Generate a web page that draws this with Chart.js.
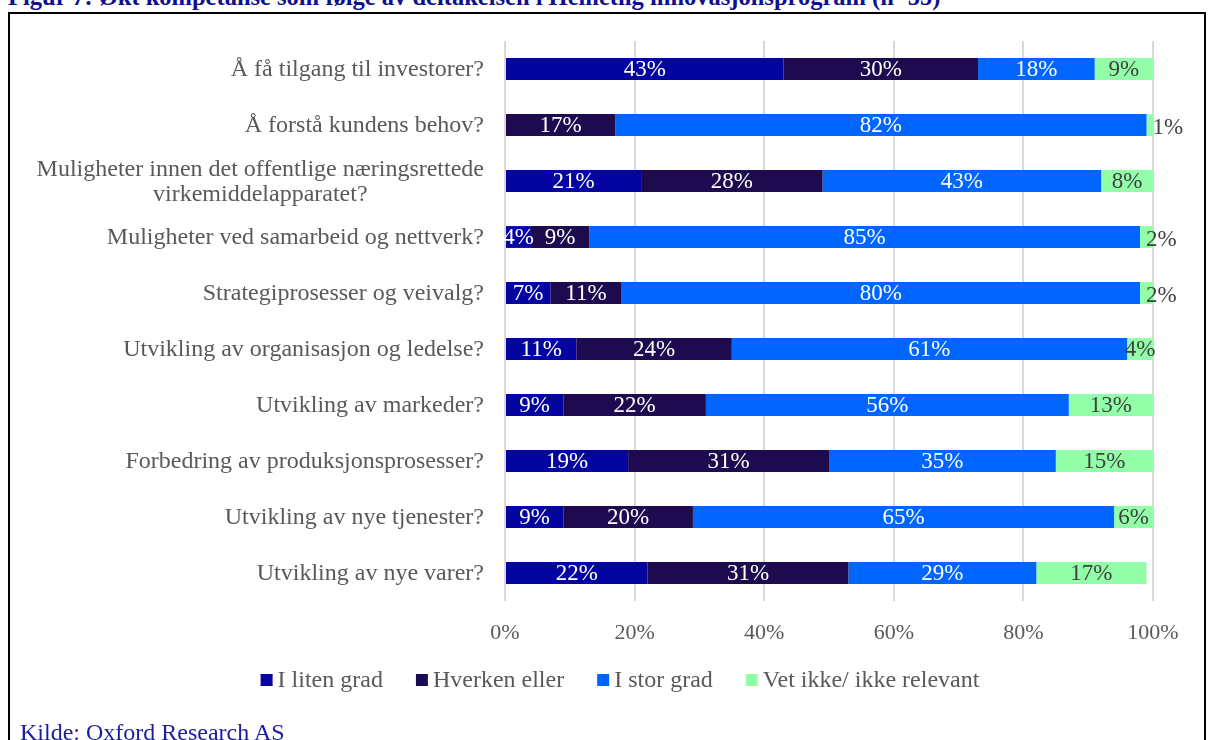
<!DOCTYPE html>
<html lang="no">
<head>
<meta charset="utf-8">
<title>Økt kompetanse</title>
<script src="https://cdn.jsdelivr.net/npm/chart.js@4.4.1/dist/chart.umd.min.js"></script>
<style>
    html, body {
        margin: 0;
        padding: 0;
        background: #ffffff;
        overflow: hidden;
    }
    #page {
        position: relative;
        width: 1208px;
        height: 740px;
        overflow: hidden;
        font-family: "Liberation Serif", "Times New Roman", serif;
    }
    #title {
        position: absolute;
        left: 8px;
        top: -17px;
        font-weight: bold;
        font-size: 24.5px;
        line-height: 28px;
        color: #10108c;
        white-space: nowrap;
    }
    #frame {
        position: absolute;
        left: 8px;
        top: 12px;
        width: 1194px;
        height: 760px;
        border: 2px solid #000000;
    }
    #source {
        position: absolute;
        left: 20px;
        top: 718px;
        font-size: 24px;
        line-height: 28px;
        color: #1c1ca0;
        white-space: nowrap;
    }
    #chartCanvas {
        position: absolute;
        left: 0;
        top: 0;
    }
</style>
</head>
<body>
<div id="page">
    <div id="title">Figur 7: Økt kompetanse som følge av deltakelsen i Helhetlig innovasjonsprogram (n=55)</div>
    <div id="frame"></div>
    <canvas id="chartCanvas" width="1208" height="740"></canvas>
    <div id="source">Kilde: Oxford Research AS</div>
</div>
<script>
const categories = [
    'Å få tilgang til investorer?',
    'Å forstå kundens behov?',
    ['Muligheter innen det offentlige næringsrettede', 'virkemiddelapparatet?'],
    'Muligheter ved samarbeid og nettverk?',
    'Strategiprosesser og veivalg?',
    'Utvikling av organisasjon og ledelse?',
    'Utvikling av markeder?',
    'Forbedring av produksjonsprosesser?',
    'Utvikling av nye tjenester?',
    'Utvikling av nye varer?'
];

const seriesNames = ['I liten grad', 'Hverken eller', 'I stor grad', 'Vet ikke/ ikke relevant'];
const seriesColors = ['#0404a0', '#1e0b4f', '#0066ff', '#92ffa8'];
const labelColors = ['#ffffff', '#ffffff', '#ffffff', '#404040'];

const litenGrad = [43, 0, 21, 4, 7, 11, 9, 19, 9, 22];
const hverkenEller = [30, 17, 28, 9, 11, 24, 22, 31, 20, 31];
const storGrad = [18, 82, 43, 85, 80, 61, 56, 35, 65, 29];
const vetIkke = [9, 1, 8, 2, 2, 4, 13, 15, 6, 17];

const tickValues = [0, 20, 40, 60, 80, 100];

const FONT = '"Liberation Serif", "Times New Roman", serif';
const TEXT_GREY = '#595959';

// percentage labels on each bar segment
const segmentLabels = {
    id: 'segmentLabels',
    afterDatasetsDraw(chart) {
        const ctx = chart.ctx;
        ctx.save();
        ctx.font = '23px ' + FONT;
        ctx.textBaseline = 'middle';
        chart.data.datasets.forEach((ds, di) => {
            const meta = chart.getDatasetMeta(di);
            meta.data.forEach((bar, i) => {
                const value = ds.data[i];
                if (!value) {
                    return;
                }
                const text = value + '%';
                ctx.fillStyle = labelColors[di];
                if (value < 3) {
                    // too narrow, let the text run out past the segment
                    ctx.textAlign = 'left';
                    ctx.fillText(text, bar.base + 6, bar.y + 3);
                } else {
                    ctx.textAlign = 'center';
                    ctx.fillText(text, (bar.base + bar.x) / 2, bar.y + 1);
                }
            });
        });
        ctx.restore();
    }
};

// category names left of the bars, wrapped lines centred in their block
const categoryLabels = {
    id: 'categoryLabels',
    afterDraw(chart) {
        const ctx = chart.ctx;
        const yScale = chart.scales.y;
        const right = chart.chartArea.left - 21;
        const lineHeight = 25;
        ctx.save();
        ctx.font = '24px ' + FONT;
        ctx.fillStyle = TEXT_GREY;
        ctx.textBaseline = 'middle';
        categories.forEach((label, i) => {
            const y = yScale.getPixelForTick(i) + 1;
            const lines = Array.isArray(label) ? label : [label];
            const widths = lines.map(l => ctx.measureText(l).width);
            const blockWidth = Math.max(...widths);
            const centre = right - blockWidth / 2;
            const firstY = y - (lines.length - 1) * lineHeight / 2;
            ctx.textAlign = 'center';
            lines.forEach((line, k) => {
                ctx.fillText(line, centre, firstY + k * lineHeight);
            });
        });
        ctx.restore();
    }
};

// legend row under the axis
const legendRow = {
    id: 'legendRow',
    afterDraw(chart) {
        const ctx = chart.ctx;
        const box = 12;
        const gap = 5;
        const spacing = 33;
        const y = 680;
        ctx.save();
        ctx.font = '24px ' + FONT;
        ctx.textBaseline = 'middle';
        ctx.textAlign = 'left';
        const items = chart.data.datasets.map(ds => ({
            text: ds.label,
            color: ds.backgroundColor,
            width: box + gap + ctx.measureText(ds.label).width
        }));
        const total = items.reduce((s, it) => s + it.width, 0) + spacing * (items.length - 1);
        let x = 620 - total / 2;
        items.forEach(it => {
            ctx.fillStyle = it.color;
            ctx.fillRect(x, y - box / 2, box, box);
            ctx.fillStyle = TEXT_GREY;
            ctx.fillText(it.text, x + box + gap, y + 1);
            x += it.width + spacing;
        });
        ctx.restore();
    }
};

const seriesData = [litenGrad, hverkenEller, storGrad, vetIkke];

new Chart(document.getElementById('chartCanvas'), {
    type: 'bar',
    data: {
        labels: categories,
        datasets: seriesData.map((values, i) => ({
            label: seriesNames[i],
            data: values,
            backgroundColor: seriesColors[i],
            borderWidth: 0,
            barPercentage: 0.39,
            categoryPercentage: 1
        }))
    },
    options: {
        indexAxis: 'y',
        responsive: false,
        animation: false,
        layout: {
            padding: { left: 505, right: 55, top: 41, bottom: 0 }
        },
        plugins: {
            legend: { display: false },
            tooltip: { enabled: false }
        },
        scales: {
            x: {
                stacked: true,
                min: 0,
                max: 100,
                afterBuildTicks(scale) {
                    scale.ticks = tickValues.map(v => ({ value: v }));
                },
                afterFit(scale) {
                    scale.height = 139;
                },
                border: { display: false },
                grid: {
                    color: '#d9d9d9',
                    lineWidth: 2,
                    drawTicks: false
                },
                ticks: {
                    padding: 19,
                    color: TEXT_GREY,
                    font: { family: FONT, size: 22 },
                    callback: v => v + '%'
                }
            },
            y: {
                stacked: true,
                afterFit(scale) {
                    scale.width = 0;
                },
                grid: { display: false },
                border: { display: false },
                ticks: { display: false }
            }
        }
    },
    plugins: [segmentLabels, categoryLabels, legendRow]
});
</script>
</body>
</html>
